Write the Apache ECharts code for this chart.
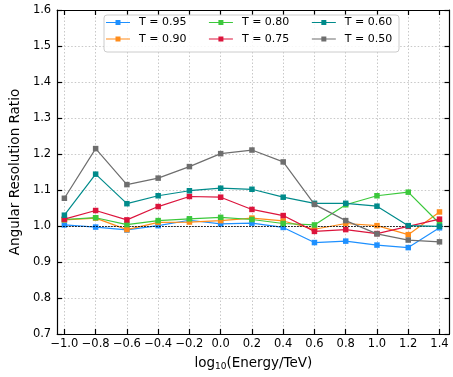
<!DOCTYPE html>
<html>
<head>
<meta charset="utf-8">
<script src="https://cdn.jsdelivr.net/npm/echarts@6/dist/echarts.min.js"></script>
<style>html,body{margin:0;padding:0;background:#fff;}#c{width:453px;height:377px;}</style>
</head>
<body>
<div id="c"></div>
<script>
const energy = [-1.0, -0.8, -0.6, -0.4, -0.2, 0.0, 0.2, 0.4, 0.6, 0.8, 1.0, 1.2, 1.4];
const xTicks = [-1.0, -0.8, -0.6, -0.4, -0.2, 0.0, 0.2, 0.4, 0.6, 0.8, 1.0, 1.2, 1.4];
const t095 = [1.003, 0.997, 0.989, 1.001, 1.016, 1.006, 1.008, 0.996, 0.954, 0.958, 0.947, 0.940, 0.995];
const t090 = [1.017, 1.022, 0.990, 1.010, 1.011, 1.015, 1.022, 1.014, 0.991, 1.007, 1.001, 0.976, 1.039];
const t080 = [1.018, 1.023, 1.004, 1.015, 1.020, 1.024, 1.018, 1.007, 1.003, 1.059, 1.084, 1.094, 1.007];
const t075 = [1.019, 1.043, 1.017, 1.054, 1.082, 1.080, 1.046, 1.029, 0.985, 0.990, 0.979, 0.999, 1.019];
const t060 = [1.030, 1.144, 1.062, 1.084, 1.098, 1.105, 1.102, 1.080, 1.063, 1.063, 1.055, 1.001, 0.999];
const t050 = [1.077, 1.215, 1.115, 1.133, 1.165, 1.201, 1.211, 1.178, 1.060, 1.015, 0.978, 0.961, 0.956];
const names = ['T = 0.95', 'T = 0.90', 'T = 0.80', 'T = 0.75', 'T = 0.60', 'T = 0.50'];
const colors = ['#1e90ff', '#ff8c1a', '#3cc83c', '#dc143c', '#008b8b', '#6e6e6e'];
const refValue = 1.0;

const seriesData = [t095, t090, t080, t075, t060, t050];
const FONT = 'DejaVu Sans';
const fmtX = v => (v < 0 ? '\u2212' : '') + Math.abs(v).toFixed(1);
const legendIcon = 'path://M0,1.9L24,1.9L24,3.1L0,3.1Z M9.5,0L14.5,0L14.5,5L9.5,5Z';

const series = seriesData.map((arr, i) => ({
  name: names[i],
  type: 'line',
  data: energy.map((x, j) => [x, arr[j]]),
  symbol: 'rect',
  symbolSize: 5.5,
  showSymbol: true,
  color: colors[i],
  lineStyle: { width: 1.2, color: colors[i] },
  itemStyle: { color: colors[i] },
  z: 3 + i,
  animation: false
}));
series[0].markLine = {
  silent: true,
  symbol: 'none',
  label: { show: false },
  lineStyle: { color: '#000', type: [1.5, 1.5], width: 1.2 },
  data: [{ yAxis: refValue }],
  animation: false
};

const legendCommon = {
  orient: 'horizontal',
  left: 106,
  itemWidth: 24,
  itemHeight: 5,
  itemGap: 22.5,
  padding: 0,
  icon: legendIcon,
  textStyle: { fontFamily: FONT, fontSize: 11, color: '#000', padding: [0, 0, 0, 4] },
  z: 10
};

const option = {
  backgroundColor: '#fff',
  animation: false,
  grid: { left: 49, right: 3.5, top: 10, bottom: 43 },
  legend: [
    Object.assign({}, legendCommon, { top: 17, data: [names[0], names[2], names[4]] }),
    Object.assign({}, legendCommon, { top: 33.5, data: [names[1], names[3], names[5]] })
  ],
  graphic: [{
    type: 'rect',
    left: 103.5, top: 14.5,
    shape: { width: 295, height: 37, r: 3 },
    style: { fill: 'rgba(255,255,255,0.85)', stroke: '#cccccc', lineWidth: 1 },
    z: 9
  }],
  xAxis: [{
    type: 'value',
    min: -1.046, max: 1.464,
    position: 'bottom',
    name: 'log{s|10}(Energy/TeV)',
    nameLocation: 'middle',
    nameGap: 21,
    nameTextStyle: { fontFamily: FONT, fontSize: 13.5, color: '#000', rich: { s: { fontFamily: FONT, fontSize: 9, color: '#000', verticalAlign: 'bottom', padding: [7, 0, 0, 0] } } },
    axisLine: { show: true, onZero: false, lineStyle: { color: '#000', width: 1.2 } },
    axisTick: { show: true, inside: true, length: 5, customValues: xTicks, lineStyle: { color: '#000', width: 1.2 } },
    axisLabel: { customValues: xTicks, formatter: fmtX, fontFamily: FONT, fontSize: 11.5, color: '#000', margin: 4 },
    splitLine: { show: true, lineStyle: { color: '#c8c8c8', type: [1.5, 2], width: 1 } }
  }, {
    type: 'value',
    min: -1.046, max: 1.464,
    position: 'top',
    axisLine: { show: true, onZero: false, lineStyle: { color: '#000', width: 1.2 } },
    axisTick: { show: true, inside: true, length: 5, customValues: xTicks, lineStyle: { color: '#000', width: 1.2 } },
    axisLabel: { show: false, customValues: xTicks },
    splitLine: { show: false }
  }],
  yAxis: [{
    type: 'value',
    min: 0.7, max: 1.6, interval: 0.1,
    position: 'left',
    name: 'Angular Resolution Ratio',
    nameLocation: 'middle',
    nameGap: 30,
    nameTextStyle: { fontFamily: FONT, fontSize: 13.5, color: '#000' },
    axisLine: { show: true, onZero: false, lineStyle: { color: '#000', width: 1.2 } },
    axisTick: { show: true, inside: true, length: 5, lineStyle: { color: '#000', width: 1.2 } },
    axisLabel: { formatter: v => v.toFixed(1), fontFamily: FONT, fontSize: 11.5, color: '#000', margin: 6 },
    splitLine: { show: true, lineStyle: { color: '#c8c8c8', type: [1.5, 2], width: 1 } }
  }, {
    type: 'value',
    min: 0.7, max: 1.6, interval: 0.1,
    position: 'right',
    axisLine: { show: true, onZero: false, lineStyle: { color: '#000', width: 1.2 } },
    axisTick: { show: true, inside: true, length: 5, lineStyle: { color: '#000', width: 1.2 } },
    axisLabel: { show: false },
    splitLine: { show: false }
  }],
  series: series
};

const chart = echarts.init(document.getElementById('c'), null, { renderer: 'canvas' });
chart.setOption(option);
</script>
</body>
</html>
